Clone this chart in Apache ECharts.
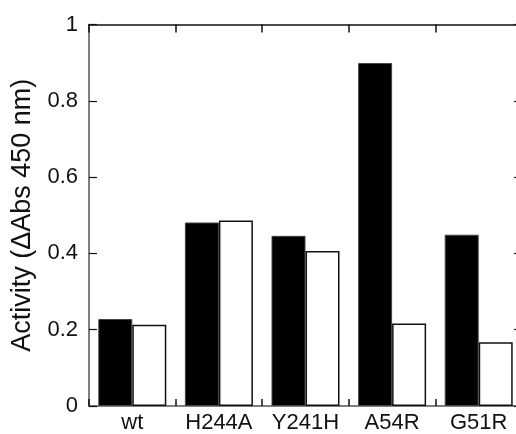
<!DOCTYPE html>
<html>
<head>
<meta charset="utf-8">
<script src="https://cdn.jsdelivr.net/npm/echarts@6/dist/echarts.min.js"></script>
<style>
    html, body { margin: 0; padding: 0; background: #fff; overflow: hidden; }
    /* 右侧坐标轴在原图中被裁掉，所以画布比窗口稍宽 */
    #chart { width: 522px; height: 434px; }
</style>
</head>
<body>
<div id="chart"></div>
<script>
// 数据
var categories = ['wt', 'H244A', 'Y241H', 'A54R', 'G51R'];
var blackValues = [0.228, 0.481, 0.446, 0.899, 0.449];
var whiteValues = [0.213, 0.486, 0.406, 0.216, 0.167];
var yTitle = 'Activity (\u0394Abs 450 nm)';

(function() {
    var myChart = echarts.init(document.getElementById('chart'));
    var font = 'Liberation Sans, Arial, sans-serif';
    var option = {
        animation: false,
        grid: {
            left: 89,
            right: 0,
            top: 24.5,
            bottom: 26.5,
            containLabel: false
        },
        xAxis: [{
            type: 'category',
            data: categories,
            position: 'bottom',
            axisLine: { show: true, onZero: false, lineStyle: { color: '#555', width: 1.5 } },
            axisTick: { show: true, interval: 0, inside: true, length: 7, lineStyle: { color: '#111', width: 1.5 } },
            axisLabel: { interval: 0, color: '#111', fontSize: 22, fontFamily: font, margin: 6 },
            splitLine: { show: false }
        }, {
            type: 'category',
            data: categories,
            position: 'top',
            axisLine: { show: true, onZero: false, lineStyle: { color: '#111', width: 1.5 } },
            axisTick: { show: true, interval: 0, inside: true, length: 8, lineStyle: { color: '#111', width: 1.5 } },
            axisLabel: { show: false },
            splitLine: { show: false }
        }],
        yAxis: [{
            type: 'value',
            min: 0,
            max: 1,
            interval: 0.2,
            position: 'left',
            name: yTitle,
            nameLocation: 'middle',
            nameGap: 53,
            nameTextStyle: { color: '#111', fontSize: 27, fontFamily: font },
            axisLine: { show: true, onZero: false, lineStyle: { color: '#555', width: 1.5 } },
            axisTick: { show: true, inside: true, length: 8, lineStyle: { color: '#111', width: 1.2 } },
            axisLabel: { color: '#111', fontSize: 22, fontFamily: font, margin: 11 },
            splitLine: { show: false }
        }, {
            type: 'value',
            min: 0,
            max: 1,
            interval: 0.2,
            position: 'right',
            axisLine: { show: true, onZero: false, lineStyle: { color: '#555', width: 1.5 } },
            axisTick: { show: true, inside: true, length: 8, lineStyle: { color: '#111', width: 1.2 } },
            axisLabel: { show: false },
            splitLine: { show: false }
        }],
        series: [{
            type: 'bar',
            data: blackValues,
            barWidth: 34,
            barGap: '0%',
            itemStyle: { color: '#000', borderColor: '#444', borderWidth: 1 }
        }, {
            type: 'bar',
            data: whiteValues,
            barWidth: 34,
            barGap: '0%',
            itemStyle: { color: '#fff', borderColor: '#111', borderWidth: 1.5 }
        }]
    };
    myChart.setOption(option);
})();
</script>
</body>
</html>
